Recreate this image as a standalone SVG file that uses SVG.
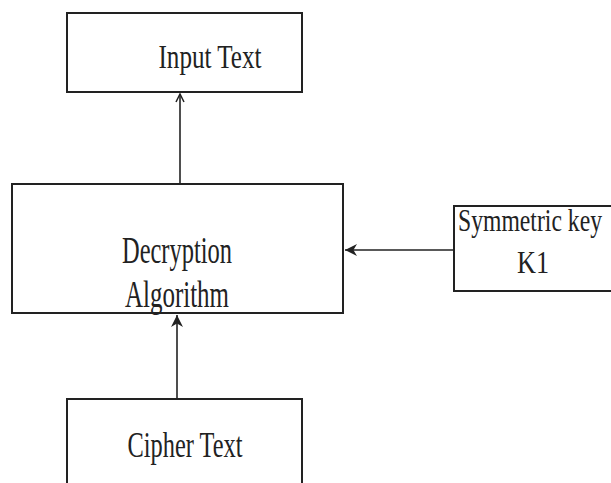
<svg xmlns="http://www.w3.org/2000/svg" width="611" height="483" viewBox="0 0 611 483">
<defs>
<style>
.box{fill:#fff;stroke:#222;stroke-width:2}
.lbl{font-family:"Liberation Serif","Times New Roman",serif;fill:#222;text-anchor:middle}
.con{stroke:#222;stroke-width:1.6;fill:none}
</style>
<marker id="ah" viewBox="0 0 10 10" refX="10" refY="5" markerWidth="12" markerHeight="12" markerUnits="userSpaceOnUse" orient="auto">
<path d="M0,0 L10,5 L0,10 L3,5 Z" fill="#222"/>
</marker>
<marker id="ao" viewBox="0 0 10 10" refX="9" refY="5" markerWidth="10" markerHeight="10" markerUnits="userSpaceOnUse" orient="auto">
<path d="M1,1 L9,5 L1,9" fill="none" stroke="#222" stroke-width="1.5"/>
</marker>
</defs>
<rect width="611" height="483" fill="#fff"/>
<g id="input-text">
<rect class="box" x="67" y="13" width="235" height="79"/>
<text class="lbl" x="210" y="68" font-size="34" textLength="103" lengthAdjust="spacingAndGlyphs">Input Text</text>
</g>
<g id="decryption">
<rect class="box" x="12" y="184" width="331" height="129"/>
<text class="lbl" x="177" y="263" font-size="37" textLength="110" lengthAdjust="spacingAndGlyphs">Decryption</text>
<text class="lbl" x="177" y="307" font-size="37" textLength="104" lengthAdjust="spacingAndGlyphs">Algorithm</text>
</g>
<g id="symmetric-key">
<rect class="box" x="454" y="206" width="160" height="85"/>
<text class="lbl" x="530" y="231" font-size="31" textLength="144" lengthAdjust="spacingAndGlyphs">Symmetric key</text>
<text class="lbl" x="533" y="273" font-size="32" textLength="32" lengthAdjust="spacingAndGlyphs">K1</text>
</g>
<g id="cipher-text">
<rect class="box" x="67" y="399" width="235" height="100"/>
<text class="lbl" x="185" y="457" font-size="35" textLength="115" lengthAdjust="spacingAndGlyphs">Cipher Text</text>
</g>
<g id="connectors">
<line class="con" x1="180" y1="184" x2="180" y2="94" marker-end="url(#ao)"/>
<line class="con" x1="454" y1="250" x2="345" y2="250" marker-end="url(#ah)"/>
<line class="con" x1="177" y1="399" x2="177" y2="315" stroke="#555" marker-end="url(#ah)"/>
</g>
</svg>
